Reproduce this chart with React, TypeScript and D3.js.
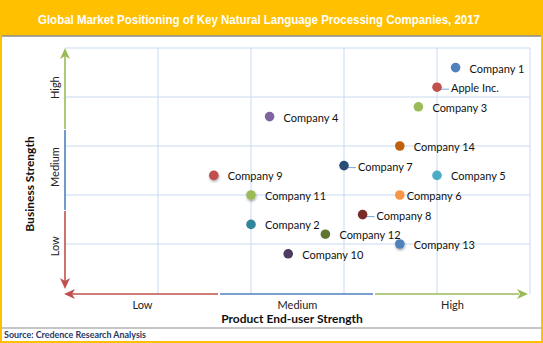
import React from "react";
import * as d3 from "d3";

const companies = ["Company 1", "Apple Inc.", "Company 3", "Company 4", "Company 14", "Company 7", "Company 9", "Company 5", "Company 11", "Company 6", "Company 8", "Company 2", "Company 12", "Company 13", "Company 10"];
const productStrength = [4.2, 4.0, 3.8, 2.2, 3.6, 3.0, 1.6, 4.0, 2.0, 3.6, 3.2, 2.0, 2.8, 3.6, 2.4];
const businessStrength = [4.6, 4.2, 3.8, 3.6, 3.0, 2.6, 2.4, 2.4, 2.0, 2.0, 1.6, 1.4, 1.2, 1.0, 0.8];
const dotColors = ["#4F81BD", "#C0504D", "#9BBB59", "#8064A2", "#C0600F", "#2C4D75", "#C0504D", "#4BACC6", "#9BBB59", "#F79646", "#772C2A", "#31859C", "#5F7530", "#4F81BD", "#4D3B62"];
const leaderLabels = ["Apple Inc.", "Company 7", "Company 8"];
const shadowed = ["Company 9", "Company 11", "Company 13"];
const levelLabels = ["Low", "Medium", "High"];
const gridTicks = [1, 2, 3, 4, 5];

const title = "Global Market Positioning of Key Natural Language Processing Companies, 2017";
const xTitle = "Product End-user Strength";
const yTitle = "Business Strength";
const source = "Source: Credence Research Analysis";

const W = 543, H = 343;
const RED = "#C0504D", BLUE = "#4F81BD", GREEN = "#9BBB59";

export default function App() {
  const x = d3.scaleLinear().domain([0, 5]).range([65, 530]);
  const y = d3.scaleLinear().domain([0, 5]).range([293, 48]);
  const xBand = d3.scaleBand<string>().domain(levelLabels).range([65, 530]);
  const yBand = d3.scaleBand<string>().domain(levelLabels).range([286, 48]);
  const font = "Lato, 'Liberation Sans', sans-serif";

  const xAxisY = 294;
  const yAxisX = 65;

  return (
    <svg width={W} height={H} style={{ position: "absolute", left: 0, top: 0, background: "#fff" }} fontFamily={font}>
      <defs>
        <filter id="sh" x="-50%" y="-50%" width="200%" height="200%">
          <feDropShadow dx="0.5" dy="1.5" stdDeviation="1.2" floodColor="#000" floodOpacity="0.35" />
        </filter>
      </defs>
      {/* title bar */}
      <rect x={0} y={0} width={W} height={36} fill="#FFC000" />
      <line x1={0} x2={W} y1={1} y2={1} stroke="#8C8C8C" strokeWidth={1.5} />
      <line x1={0} x2={W} y1={36} y2={36} stroke="#8C8C8C" strokeWidth={1.5} />
      <text x={259} y={24} textAnchor="middle" fill="#fff" fontWeight="bold" fontSize={12.5} fontFamily="'Liberation Sans', Arial, sans-serif" textLength={442} lengthAdjust="spacingAndGlyphs">{title}</text>

      {/* grid */}
      {gridTicks.map((t) => (
        <line key={"v" + t} x1={x(t)} x2={x(t)} y1={y(5)} y2={xAxisY} stroke="#C9DAEF" strokeWidth={1} />
      ))}
      {gridTicks.map((t) => (
        <line key={"h" + t} x1={yAxisX} x2={x(5)} y1={y(t)} y2={y(t)} stroke="#C9DAEF" strokeWidth={1} />
      ))}

      {/* y axis colored segments */}
      <line x1={yAxisX} x2={yAxisX} y1={285} y2={211} stroke={RED} strokeWidth={1.6} />
      <line x1={yAxisX} x2={yAxisX} y1={210} y2={130} stroke={BLUE} strokeWidth={1.6} />
      <line x1={yAxisX} x2={yAxisX} y1={129} y2={56} stroke={GREEN} strokeWidth={1.6} />
      <path d={`M${yAxisX},48 L${yAxisX - 5},59 L${yAxisX},56 L${yAxisX + 5},59 Z`} fill={GREEN} />
      <path d={`M${yAxisX},289 L${yAxisX - 5},278 L${yAxisX},281 L${yAxisX + 5},278 Z`} fill={RED} />

      {/* x axis colored segments */}
      <line x1={72} x2={218} y1={xAxisY} y2={xAxisY} stroke={RED} strokeWidth={1.6} />
      <line x1={220} x2={373} y1={xAxisY} y2={xAxisY} stroke={BLUE} strokeWidth={1.6} />
      <line x1={375} x2={519} y1={xAxisY} y2={xAxisY} stroke={GREEN} strokeWidth={1.6} />
      <path d={`M64,${xAxisY} L75,${xAxisY - 5} L72,${xAxisY} L75,${xAxisY + 5} Z`} fill={RED} />
      <path d={`M528,${xAxisY} L517,${xAxisY - 5} L520,${xAxisY} L517,${xAxisY + 5} Z`} fill={GREEN} />

      {/* level labels */}
      {levelLabels.map((l) => (
        <text key={"xl" + l} x={(xBand(l) as number) + xBand.bandwidth() / 2} y={309} textAnchor="middle" fontSize={11} fill="#222">{l}</text>
      ))}
      {levelLabels.map((l) => {
        const cy = (yBand(l) as number) + yBand.bandwidth() / 2;
        return (
          <text key={"yl" + l} transform={`translate(59,${cy}) rotate(-90)`} textAnchor="middle" fontSize={11} fill="#222">{l}</text>
        );
      })}

      {/* axis titles */}
      <text x={292} y={323} textAnchor="middle" fontSize={12} fontWeight="bold" fill="#111">{xTitle}</text>
      <text transform="translate(34,184) rotate(-90)" textAnchor="middle" fontSize={12} fontWeight="bold" fill="#111">{yTitle}</text>

      {/* points */}
      {companies.map((c, i) => {
        const cx = x(productStrength[i]);
        const cy = y(businessStrength[i]);
        const dx = c === "Company 6" ? 7 : 14;
        const leader = leaderLabels.includes(c);
        return (
          <g key={c}>
            {leader && <line x1={cx + 3} x2={cx + dx - 2} y1={cy + 2} y2={cy + 2} stroke="#7FA7D6" strokeWidth={1} />}
            <circle cx={cx} cy={cy} r={4.8} fill={dotColors[i]} filter={shadowed.includes(c) ? "url(#sh)" : undefined} />
            <text x={cx + dx} y={cy + 5} fontSize={11} fill="#111">{c}</text>
          </g>
        );
      })}

      {/* footer */}
      <line x1={0} x2={W} y1={328} y2={328} stroke="#8C8C8C" strokeWidth={1} />
      <text x={4} y={338} fontSize={9} fontWeight="bold" fill="#1F3864" textLength={142} lengthAdjust="spacingAndGlyphs">{source}</text>

      {/* outer border */}
      <rect x={1} y={1} width={W - 2} height={H - 2} fill="none" stroke="#FFC000" strokeWidth={2} />
    </svg>
  );
}
